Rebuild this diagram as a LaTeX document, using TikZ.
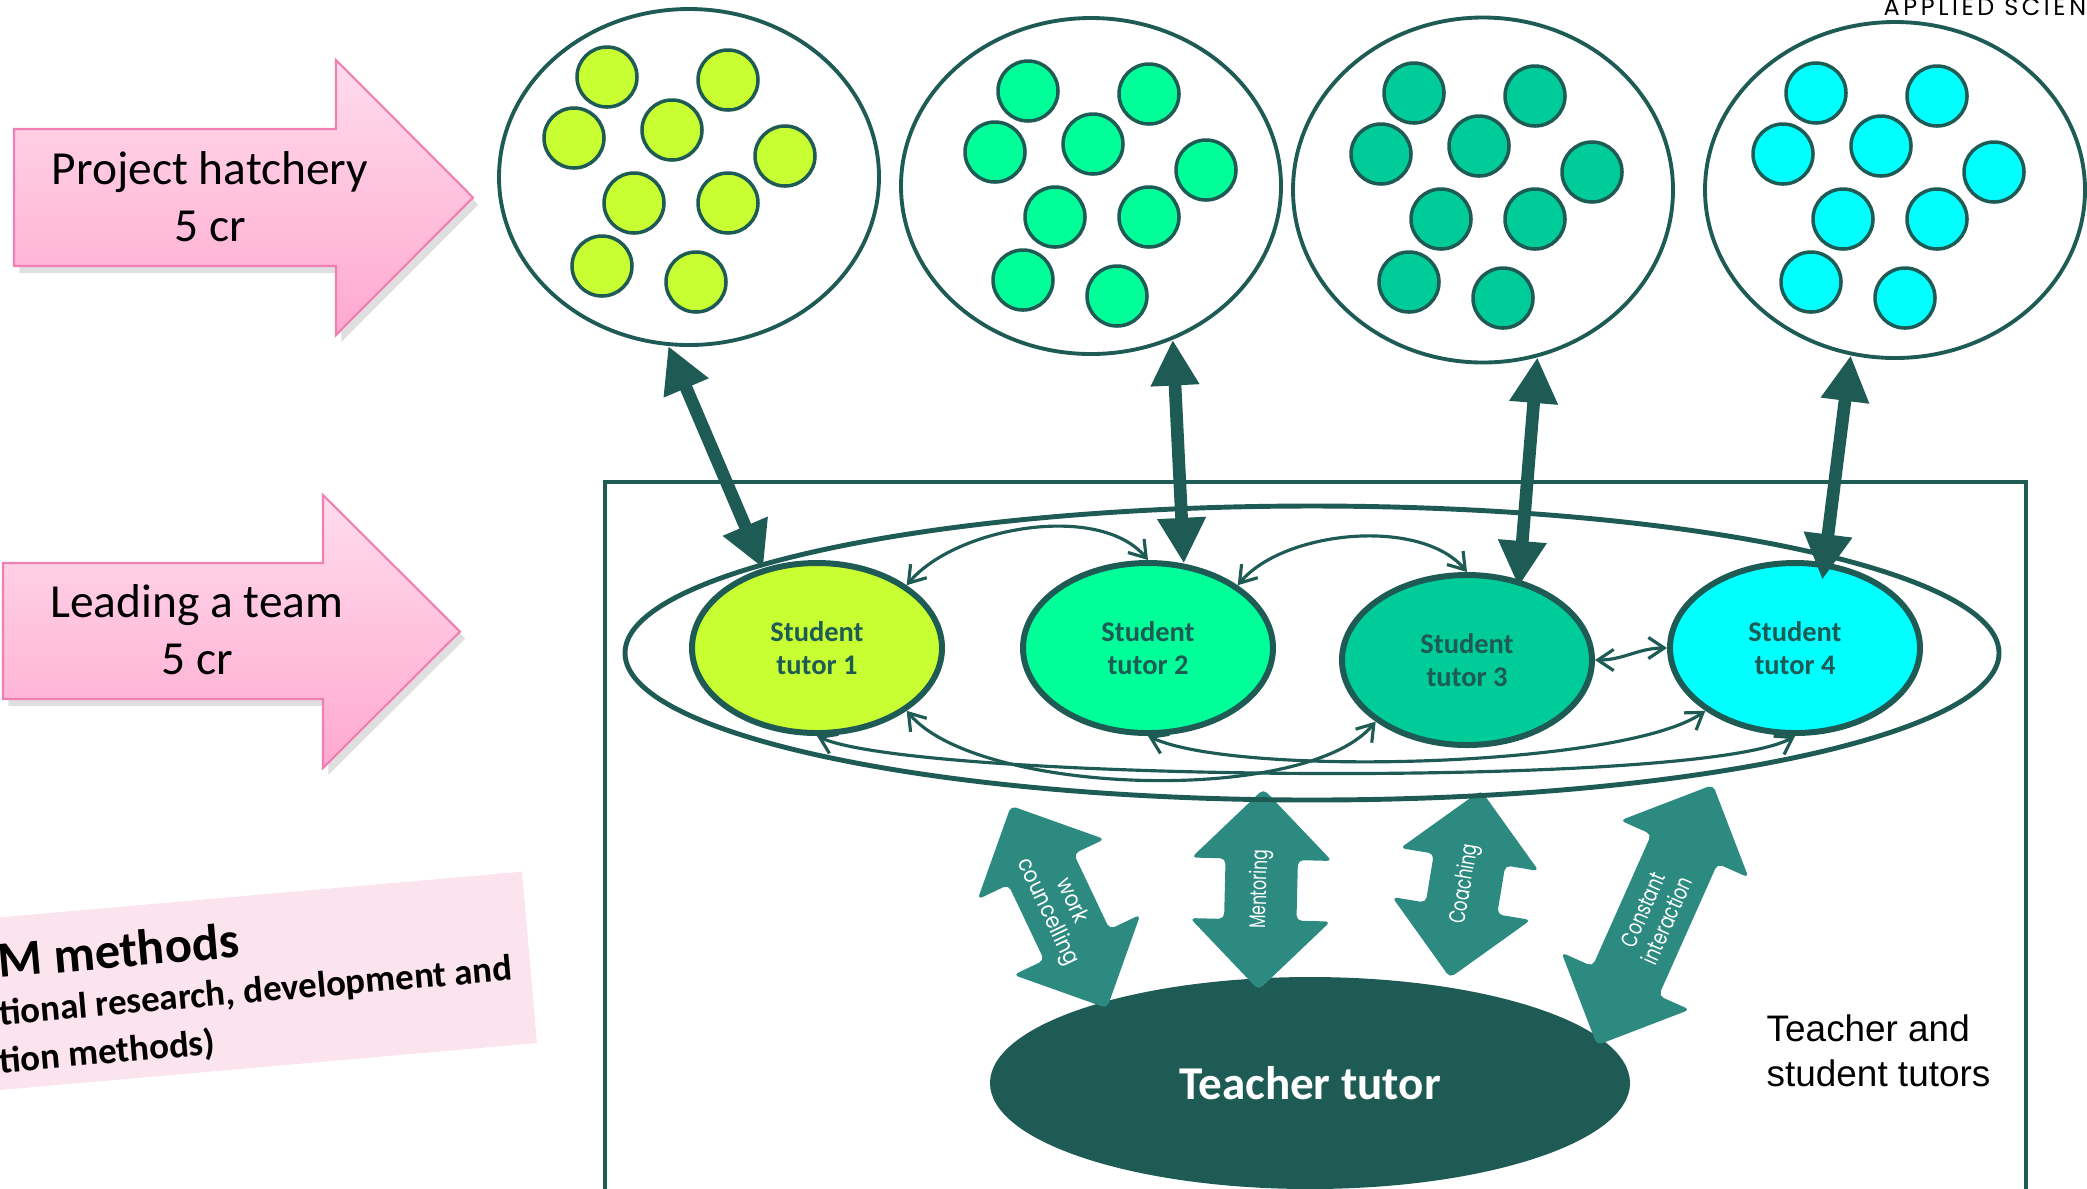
\documentclass[tikz,border=0pt]{standalone}
\usepackage{fontspec}
\setmainfont{Carlito}
\newfontfamily\arialfont{Liberation Sans}
\newfontfamily\geofont{Poppins}
\newfontfamily\logofont[LetterSpace=15]{Poppins}
\usetikzlibrary{shapes.geometric,shapes.arrows,arrows.meta,shadows}

\definecolor{deepteal}{HTML}{1E5B55}
\definecolor{arrowteal}{HTML}{2C8A80}
\definecolor{tutorA}{HTML}{C8FF33}
\definecolor{tutorB}{HTML}{00FF99}
\definecolor{tutorC}{HTML}{00CC99}
\definecolor{tutorD}{HTML}{00FFFF}
\definecolor{pinktop}{HTML}{FFDCEC}
\definecolor{pinkbot}{HTML}{FFA8D0}
\definecolor{pinkline}{HTML}{EE80B4}
\definecolor{notepink}{HTML}{FCE4EE}

\begin{document}
\begin{tikzpicture}[
team/.style = {draw=deepteal, ellipse, line width=1.1pt, minimum width=3.8cm, minimum height=3.36cm},
member/.style = {draw=deepteal, circle, line width=1pt, minimum size=0.6cm, inner sep=0pt},
tutor/.style = {draw=deepteal, ellipse, line width=1.7pt, minimum width=2.5cm, minimum height=1.7cm,
  align=center, text=deepteal, font=\fontsize{8.1}{9.4}\selectfont\bfseries},
bigarrow/.style = {{Triangle[length=13pt,width=13pt]}-{Triangle[length=13pt,width=13pt]}, line width=3.6pt, draw=deepteal},
link/.style = {{Straight Barb[length=4.5pt,width=6pt]}-{Straight Barb[length=4.5pt,width=6pt]}, line width=0.9pt, draw=deepteal},
method/.style = {double arrow, fill=arrowteal, inner xsep=0pt, inner ysep=0.355cm,
  double arrow head extend=0.34cm, double arrow tip angle=90, rounded corners=1.5pt},
methodtext/.style = {text=white, align=center, inner sep=0pt, font=\geofont\fontsize{6.5}{7.5}\selectfont},
course/.style = {draw=pinkline, line width=0.6pt, top color=pinktop, bottom color=pinkbot,
  drop shadow={shadow xshift=1.5pt, shadow yshift=-2pt, opacity=0.25}},
coursetext/.style = {align=center, font=\fontsize{13.5}{16.2}\selectfont}
]
\useasboundingbox (0,0) rectangle (20.87,-11.88);
\clip (0,0) rectangle (20.87,-11.88);

% courses
\path[course] (0.14,-1.29) -- (3.36,-1.29) -- (3.36,-0.60) -- (4.73,-1.975) -- (3.36,-3.35) -- (3.36,-2.66) -- (0.14,-2.66) -- cycle;
\node[coursetext] (hatchery) at (2.10,-1.97) {Project hatchery\\5 cr};
\path[course] (0.03,-5.63) -- (3.23,-5.63) -- (3.23,-4.95) -- (4.60,-6.315) -- (3.23,-7.68) -- (3.23,-6.99) -- (0.03,-6.99) -- cycle;
\node[coursetext] (leading) at (1.97,-6.30) {Leading a team\\5 cr};

% tilted note
\begin{scope}[shift={(5.37,-10.43)}, rotate=5, transform shape]
\fill[notepink] (-6,0) rectangle (0,1.72);
\node[anchor=base west, inner sep=0pt, font=\fontsize{14.4}{17}\selectfont\bfseries] (methods) at (-5.30,1.116) {M methods};
\node[anchor=base west, inner sep=0pt, font=\fontsize{10.5}{12.6}\selectfont\bfseries] (research) at (-5.34,0.647) {tional research, development and};
\node[anchor=base west, inner sep=0pt, font=\fontsize{10.5}{12.6}\selectfont\bfseries] (innovation) at (-5.38,0.169) {tion methods)};
\end{scope}

% tutor group
\draw[deepteal, line width=1.2pt] (6.05,-4.82) rectangle (20.26,-12.5);
\node[ellipse, fill=deepteal, minimum width=6.4cm, minimum height=2.12cm, text=white,
  font=\fontsize{13.4}{15}\selectfont\bfseries] (teacher) at (13.10,-10.83) {Teacher tutor};
\node[anchor=west, inner sep=0pt, align=left, font=\arialfont\fontsize{10.5}{12.8}\selectfont] (group) at (17.66,-10.51) {Teacher and\\student tutors};

\node[method, minimum height=2.24cm, rotate=-64.6] (work) at (10.59,-9.07) {};
\node[methodtext, rotate=-64.6] (work-t) at (work.center) {\scalebox{.87}[1]{work}\\\scalebox{.87}[1]{councelling}};
\node[method, minimum height=2.01cm, rotate=88.6] (mentor) at (12.61,-8.895) {};
\node[methodtext, rotate=88.6] (mentor-t) at (mentor.center) {\scalebox{.68}[1]{Mentoring}};
\node[method, minimum height=1.90cm, rotate=80.6] (coach) at (14.655,-8.84) {};
\node[methodtext, rotate=80.6] (coach-t) at (coach.center) {\scalebox{.72}[1]{Coaching}};
\node[method, minimum height=2.85cm, rotate=66] (interact) at (16.55,-9.15) {};
\node[methodtext, rotate=66] (interact-t) at (interact.center) {\scalebox{.75}[1]{Constant}\\\scalebox{.75}[1]{interaction}};

\node[draw=deepteal, ellipse, line width=1.4pt, minimum width=13.74cm, minimum height=2.94cm] (circle) at (13.12,-6.53) {};

\node[tutor, fill=tutorA] (t1) at (8.17,-6.48) {Student\\tutor 1};
\node[tutor, fill=tutorB] (t2) at (11.48,-6.48) {Student\\tutor 2};
\node[tutor, fill=tutorC] (t3) at (14.67,-6.60) {Student\\tutor 3};
\node[tutor, fill=tutorD] (t4) at (17.95,-6.48) {Student\\tutor 4};

\draw[link] (t1.35) to[out=50, in=130, looseness=0.8] (t2.north);
\draw[link] (t2.35) to[out=50, in=130, looseness=0.8] (t3.north);
\draw[link] (t3.east) to[out=0, in=180] (t4.west);
\draw[link] (t1.-35) to[out=-50, in=-130, looseness=0.6] (t3.214);
\draw[link] (t1.south) to[out=-25, in=-150, looseness=0.28] (t4.south);
\draw[link] (t2.south) to[out=-25, in=-145, looseness=0.45] (t4.215);

% project teams
\node[team] (c1) at (6.89,-1.77) {};
\node[team] (c2) at (10.91,-1.86) {};
\node[team, minimum height=3.45cm] (c3) at (14.83,-1.90) {};
\node[team] (c4) at (18.95,-1.90) {};
\foreach \grp/\ox/\oy/\col in {c1/6.07/-0.77/tutorA, c2/10.28/-0.91/tutorB, c3/14.14/-0.93/tutorC, c4/18.16/-0.93/tutorD}
  \foreach \dx/\dy [count=\i] in {0/0, 1.21/-0.03, -0.33/-0.61, 0.65/-0.53, 1.78/-0.79, 0.27/-1.26, 1.21/-1.26, -0.05/-1.89, 0.89/-2.05}
    \node[member, fill=\col] (\grp-\i) at ([shift={(\dx,\dy)}]\ox,\oy) {};

\draw[bigarrow] (c1.263) -- (t1.124);
\draw[bigarrow] (c2.-62) -- (t2.67);
\draw[bigarrow, shorten >=-2pt] (c3.-72) -- (t3.57);
\draw[bigarrow, shorten >=-5pt] (c4.-105) -- (t4.71);

\node[anchor=base west, inner sep=0pt, font=\logofont\fontsize{6.8}{8}\selectfont] (logo) at (18.83,-0.15) {APPLIED SCIEN};
\end{tikzpicture}
\end{document}
